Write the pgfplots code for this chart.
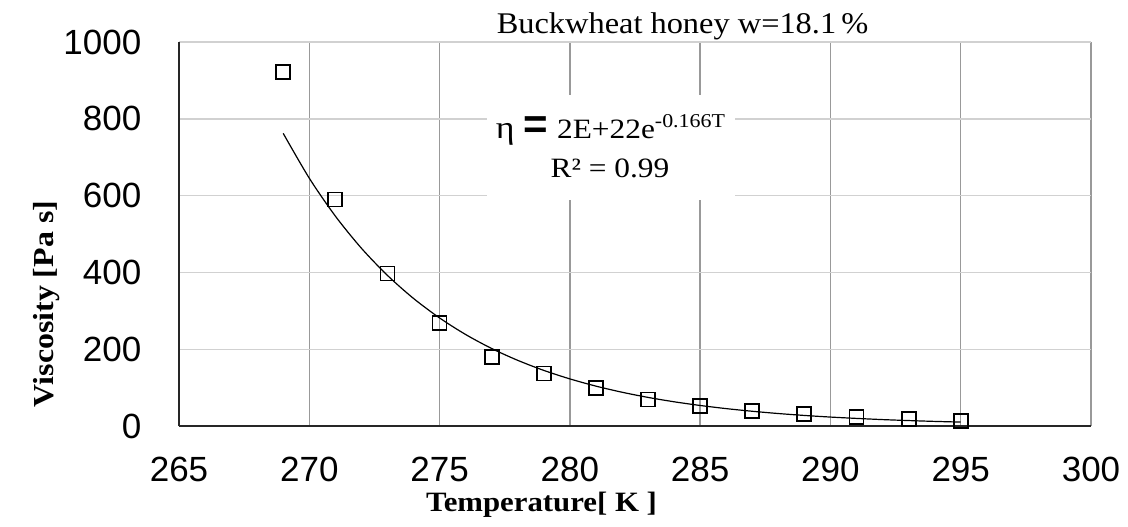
\documentclass[border=0pt]{standalone}
\usepackage{fontspec}
\setmainfont{Liberation Serif}
\setsansfont{Liberation Sans}
\newfontfamily\titlefont[FakeStretch=1.08]{Liberation Serif}
\newfontfamily\labelfont[FakeStretch=1.1]{Liberation Serif}
\newfontfamily\eqfont[FakeStretch=1.12]{Liberation Serif}
\usepackage{pgfplots}
\pgfplotsset{compat=1.18}
\begin{document}
\begin{tikzpicture}
\useasboundingbox (-89.5pt,-50pt) rectangle (474.5pt,213pt);
\begin{axis}[
 at={(0,0)}, anchor=south west, scale only axis,
 width=456pt, height=192pt,
 xmin=265, xmax=300, ymin=0, ymax=1000,
 enlargelimits=false,
 xtick={265,270,...,300}, ytick={0,200,...,1000},
 axis x line*=bottom, axis y line*=left,
 axis line style={-, line width=1pt, color=black!85},
 grid=major,
 x grid style={line width=0.7pt, color=black!40},
 y grid style={line width=0.7pt, color=black!18},
 major tick length=0pt,
 /pgf/number format/assume math mode=true,
 /pgf/number format/1000 sep={},
 ticklabel style={font=\sffamily\fontsize{17.5}{20}\selectfont, inner sep=0pt},
 xticklabel style={yshift=-15.35pt},
 yticklabel style={xshift=-18.65pt},
 clip=false,
]
% fitted trend line
\addplot[black, line width=0.6pt, smooth, no marks] coordinates {
(269,762) (270,645.4) (271,546.7) (272,463.0) (273,392.2) (274,332.2)
(275,281.4) (276,238.3) (277,201.8) (278,171.0) (279,144.8) (280,122.7)
(281,103.9) (282,88.0) (283,74.5) (284,63.1) (285,53.5) (286,45.3)
(287,38.4) (288,32.5) (289,27.5) (290,23.3) (291,19.8) (292,16.7)
(293,14.2) (294,12.0) (295,10.2)
};
% measured data
\addplot[only marks, mark=square, mark size=3.5pt, mark options={black, line width=0.9pt}] coordinates {
(269,922) (271,590) (273,397) (275,269) (277,180) (279,137) (281,100)
(283,69) (285,52) (287,39) (289,31) (291,22.5) (293,18) (295,14)
};
\end{axis}
\fill[white] (154pt,113pt) rectangle (278pt,165.5pt);
\node[anchor=base, inner sep=0pt] at (216pt,143.85pt) {\eqfont\fontsize{16}{18}\selectfont η\ {\sffamily\bfseries\fontsize{21}{22}\selectfont =}\ \eqfont\fontsize{14}{16}\selectfont 2E+22e\textsuperscript{-0.166T}};
\node[anchor=base, inner sep=0pt] at (215.5pt,124.35pt) {\eqfont\fontsize{14}{16}\selectfont R² = 0.99};
\node[anchor=base, inner sep=0pt] at (251.75pt,196.35pt) {\titlefont\fontsize{15}{18}\selectfont Buckwheat honey w=18.1\,\%};
\node[anchor=base, inner sep=0pt] at (181.25pt,-42.85pt) {\labelfont\bfseries\fontsize{14}{16}\selectfont Temperature[ K ]};
\node[rotate=90, inner sep=0pt] at (-66pt,61pt) {\labelfont\bfseries\fontsize{14.5}{16}\selectfont Viscosity [Pa s]};
\end{tikzpicture}
\end{document}
